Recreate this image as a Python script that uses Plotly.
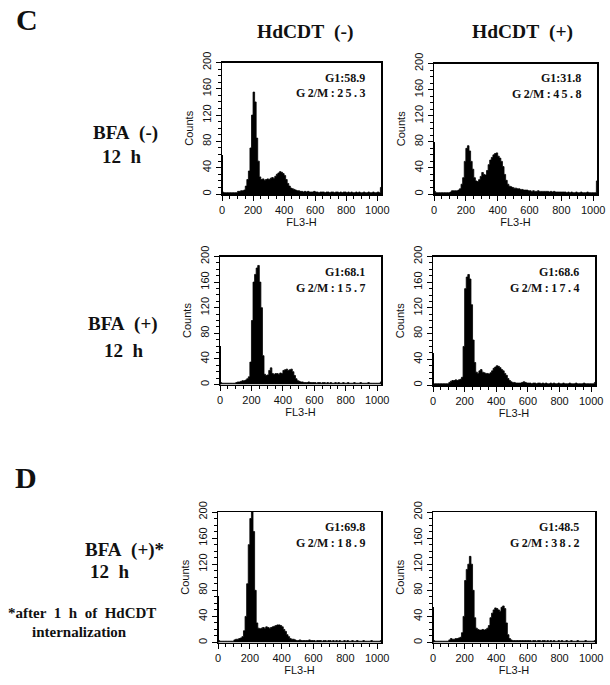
import plotly.graph_objects as go

# ---------------- data (channel bins of width 10 starting at 0) ----------------
bin_starts = list(range(0, 1030, 10))  # 0..1020

tail_a = [4, 4, 3, 4, 3, 4, 3, 3, 3, 4, 3, 3, 2, 3, 3, 3, 2, 3, 3, 2, 3, 3, 2, 3, 3, 2,
          3, 2, 3, 3, 2, 3, 2, 3, 2, 2, 3, 2, 3, 2, 2, 3, 2, 2, 3, 2, 2, 3, 2, 2, 3, 2]

counts_p1 = ([3, 2, 2, 2, 2, 2, 2, 2, 2, 2,
              4, 4, 5, 5, 6, 12, 22, 35, 70, 120,
              155, 140, 85, 50, 26, 22, 23, 21, 22, 23,
              22, 24, 25, 24, 27, 30, 32, 34, 33, 31,
              28, 22, 16, 12, 9, 8, 7, 6, 5, 5]
             + tail_a + [10])

counts_p2 = ([4, 2, 2, 2, 2, 2, 2, 2, 2, 2,
              3, 5, 5, 5, 5, 6, 8, 15, 25, 50,
              70, 74, 66, 50, 38, 25, 20, 19, 22, 27,
              33, 30, 29, 36, 45, 52, 56, 60, 62, 63,
              58, 55, 50, 42, 30, 21, 15, 12, 11, 10,
              9, 9, 8, 8, 7, 7, 6, 6, 6, 5,
              5, 4, 5, 4, 4, 5, 4, 4, 4, 4,
              4, 4, 3, 4, 3, 4, 3, 3, 3, 3,
              3, 3, 3, 2, 3, 2, 3, 2, 2, 3,
              2, 2, 3, 2, 2, 2, 3, 2, 2, 2,
              2, 2, 20])

counts_p3 = ([3, 2, 2, 2, 2, 2, 2, 2, 2, 2,
              3, 4, 4, 5, 6, 6, 7, 9, 12, 35,
              100, 160, 172, 182, 186, 160, 120, 45, 16, 14,
              15, 22, 26, 17, 16, 17, 17, 16, 18, 17,
              22, 23, 24, 22, 23, 24, 20, 14, 9, 6,
              5, 4, 4, 3, 3, 3, 4, 3, 3, 3,
              3, 2, 3, 3, 2, 3, 3, 2, 3, 2,
              3, 2, 2, 3, 2, 3, 2, 2, 3, 2,
              2, 3, 2, 2, 2, 3, 2, 2, 2, 3,
              2, 2, 2, 2, 3, 2, 2, 2, 2, 2,
              2, 2, 4])

counts_p4 = ([2, 2, 2, 2, 2, 2, 2, 2, 2, 2,
              4, 6, 7, 7, 8, 7, 8, 9, 12, 60,
              150, 168, 172, 165, 125, 70, 35, 20, 18, 22,
              24, 20, 19, 18, 18, 17, 19, 22, 26, 28,
              30, 29, 27, 24, 22, 18, 15, 10, 7, 5,
              4, 4, 3, 3, 3, 3, 4, 5, 4, 3,
              3, 3, 2, 3, 3, 2, 3, 3, 2, 3,
              2, 3, 2, 2, 3, 2, 3, 2, 2, 3,
              2, 2, 3, 2, 2, 2, 3, 2, 2, 2,
              3, 2, 2, 2, 2, 3, 2, 2, 2, 2,
              2, 2, 4])

counts_p5 = ([3, 2, 2, 2, 2, 2, 2, 2, 2, 2,
              4, 5, 5, 6, 7, 9, 18, 40, 90, 150,
              190, 200, 170, 80, 30, 22, 21, 22, 23, 22,
              24, 23, 22, 23, 24, 25, 26, 27, 27, 26,
              24, 20, 17, 12, 9, 6, 5, 5, 4, 3,
              3, 4, 3, 3, 3, 3, 3, 4, 3, 3,
              3, 2, 3, 3, 3, 2, 3, 3, 2, 3,
              3, 2, 3, 2, 3, 2, 3, 2, 2, 3,
              2, 3, 2, 2, 3, 2, 2, 3, 2, 2,
              2, 3, 2, 2, 2, 2, 3, 2, 2, 2,
              2, 2, 3])

counts_p6 = ([3, 2, 2, 2, 2, 2, 2, 2, 2, 2,
              4, 6, 5, 5, 6, 6, 7, 8, 15, 40,
              95, 112, 120, 132, 120, 80, 38, 22, 20, 19,
              19, 20, 19, 20, 22, 26, 38, 45, 50, 53,
              52, 50, 48, 54, 56, 52, 30, 12, 6, 4,
              3, 3, 3, 3, 3, 3, 3, 3, 3, 3,
              3, 3, 2, 3, 3, 2, 3, 3, 2, 3,
              3, 2, 3, 2, 3, 2, 3, 2, 2, 3,
              2, 3, 2, 2, 3, 2, 2, 3, 2, 2,
              2, 3, 2, 2, 2, 2, 3, 2, 2, 2,
              2, 2, 3])

# thin spikes at the very first channels (channel, count)
spike_channels = [1, 3]
spikes = [[125, 60], [162, 80], [120, 60], [100, 50], [145, 72], [110, 55]]

phase_g1 = ["58.9", "31.8", "68.1", "68.6", "69.8", "48.5"]
phase_g2m = ["25.3", "45.8", "15.7", "17.4", "18.9", "38.2"]

all_counts = [counts_p1, counts_p2, counts_p3, counts_p4, counts_p5, counts_p6]

y_ticks = [0, 40, 80, 120, 160, 200]
x_ticks = [0, 200, 400, 600, 800, 1000]

# ---------------- layout geometry (pixels in 610x685 canvas) ----------------
W, H = 610, 685
# (left, right, top(value 200), bottom(value 0))
boxes = [
    (222, 381, 62.5, 194),
    (434, 597, 63.5, 194),
    (220, 381, 256.5, 384.5),
    (433, 595, 256.5, 385),
    (218, 381, 512, 642.5),
    (433, 595, 512, 642.5),
]

fig = go.Figure()
SANS = "Liberation Sans, Arial, sans-serif"
SERIF = "Liberation Serif, Times New Roman, serif"
TS = "\u2009"  # thin space for the spaced-out G2/M label

for i, (cnt, box) in enumerate(zip(all_counts, boxes)):
    n = i + 1
    xa = "x" if n == 1 else f"x{n}"
    ya = "y" if n == 1 else f"y{n}"
    xs = bin_starts + [1030]
    ys = cnt + [cnt[-1]]
    fig.add_trace(go.Scatter(
        x=xs, y=ys, mode="lines", line=dict(shape="hv", color="black", width=0.8),
        fill="tozeroy", fillcolor="black", xaxis=xa, yaxis=ya, showlegend=False,
        hoverinfo="skip"))
    fig.add_trace(go.Bar(
        x=spike_channels, y=spikes[i], width=[2, 2], marker=dict(color="black", line=dict(width=0)),
        xaxis=xa, yaxis=ya, showlegend=False, hoverinfo="skip"))

    l, r, t, b = box
    xdom = [l / W, r / W]
    ydom = [1 - b / H, 1 - t / H]
    ax_x = dict(
        domain=xdom, range=[0, 1024], tickvals=x_ticks, ticktext=[str(v) for v in x_ticks],
        ticks="outside", ticklen=5, tickwidth=1, tickcolor="black",
        minor=dict(dtick=50, tick0=0, ticks="outside", ticklen=3, tickcolor="black"),
        showline=True, linecolor="black", linewidth=1.5, mirror=True,
        showgrid=False, zeroline=False, anchor=ya, automargin=False,
        tickfont=dict(family=SANS, size=11, color="#111"),
        title=dict(text="FL3-H", font=dict(family=SANS, size=11, color="#111"), standoff=3),
    )
    ax_y = dict(
        domain=ydom, range=[0, 200], tickvals=y_ticks, ticktext=[str(v) for v in y_ticks],
        ticks="outside", ticklen=5, tickwidth=1, tickcolor="black",
        minor=dict(dtick=10, tick0=0, ticks="outside", ticklen=3, tickcolor="black"),
        showline=True, linecolor="black", linewidth=1.5, mirror=True,
        showgrid=False, zeroline=False, anchor=xa, tickangle=-90, automargin=False,
        tickfont=dict(family=SANS, size=11, color="#111"),
        title=dict(text="Counts", font=dict(family=SANS, size=11, color="#111"), standoff=5),
    )
    fig.layout[("xaxis" if n == 1 else f"xaxis{n}")] = ax_x
    fig.layout[("yaxis" if n == 1 else f"yaxis{n}")] = ax_y

    # phase annotations
    g2 = phase_g2m[i]
    g2_txt = "G" + TS + "2/M" + TS + ":" + TS + TS.join(list(g2))
    fig.add_annotation(text=f"<b>G1:{phase_g1[i]}</b>", xref="paper", yref="paper",
                       x=(r - 14) / W, y=1 - (t + 15) / H, xanchor="right", yanchor="middle",
                       showarrow=False, font=dict(family=SERIF, size=12, color="#111"))
    fig.add_annotation(text=f"<b>{g2_txt}</b>",
                       xref="paper", yref="paper",
                       x=(r - 14) / W, y=1 - (t + 31) / H, xanchor="right", yanchor="middle",
                       showarrow=False, font=dict(family=SERIF, size=12, color="#111"))

# ---------------- text labels ----------------
NB = "&nbsp;"
labels = [
    ("C", 27, 19, 30),
    ("D", 26, 478, 30),
    (f"HdCDT{NB}{NB}(-)", 305, 32, 19.5),
    (f"HdCDT{NB}{NB}(+)", 522, 32, 19.5),
    (f"BFA{NB}{NB}(-)", 125, 133, 19),
    (f"12{NB}{NB}h", 122, 156, 19),
    (f"BFA{NB}{NB}(+)", 123, 324, 19),
    (f"12{NB}{NB}h", 124, 350, 19),
    (f"BFA{NB}{NB}(+)*", 124, 550, 19),
    (f"12{NB}{NB}h", 110, 571, 19),
    (f"*after{NB}{NB}1{NB}{NB}h{NB}{NB}of{NB}{NB}HdCDT", 82, 613, 15),
    ("internalization", 79, 632, 15),
]
for txt, px, py, sz in labels:
    fig.add_annotation(text=f"<b>{txt}</b>", xref="paper", yref="paper",
                       x=px / W, y=1 - py / H, xanchor="center", yanchor="middle",
                       showarrow=False, font=dict(family=SERIF, size=sz, color="#111"))

fig.update_layout(
    width=W, height=H, margin=dict(l=0, r=0, t=0, b=0, autoexpand=False),
    paper_bgcolor="white", plot_bgcolor="white", bargap=0,
    showlegend=False,
)

fig.write_html("out.html", config={"displayModeBar": False, "staticPlot": True},
               post_script="document.body.style.margin='0';document.body.style.overflow='hidden';")
